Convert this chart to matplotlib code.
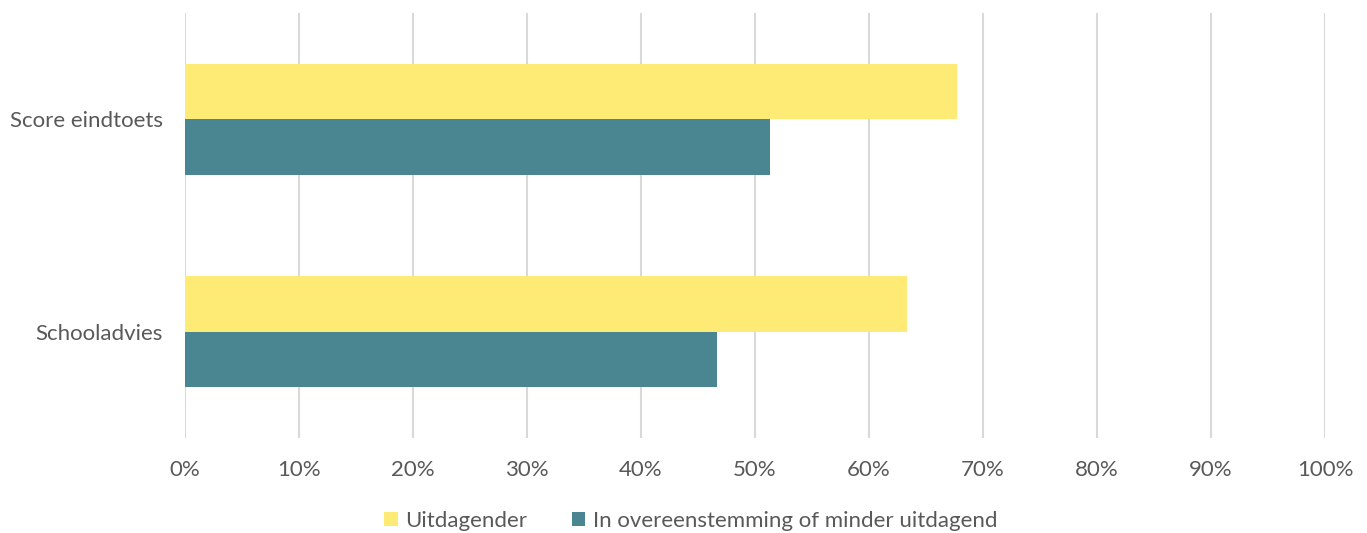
import matplotlib
matplotlib.use("Agg")
import matplotlib.pyplot as plt
from matplotlib.ticker import PercentFormatter
import numpy as np

categories = ["Score eindtoets", "Schooladvies"]
series_names = ["Uitdagender", "In overeenstemming of minder uitdagend"]
uitdagender = [67.7, 63.3]
minder = [51.3, 46.7]
xticks = list(range(0, 101, 10))

yellow = "#FDEB76"
teal = "#4A8692"
text_c = "#595959"
grid_c = "#D9D9D9"

plt.rcParams['font.family'] = ['Lato', 'DejaVu Sans']
fs = 16

fig = plt.figure(figsize=(13.67, 5.33), dpi=100)
ax = fig.add_axes([185/1367, (533-438)/533, (1325-185)/1367, (438-13)/533])

y = np.arange(len(categories))
h = 0.262
ax.barh(y - h/2, uitdagender, height=h, color=yellow, label=series_names[0])
ax.barh(y + h/2, minder, height=h, color=teal, label=series_names[1])

ax.set_ylim(1.5, -0.5)
ax.set_xlim(0, 100)
ax.set_xticks(xticks)
ax.xaxis.set_major_formatter(PercentFormatter(decimals=0))
ax.set_yticks(y)
ax.set_yticklabels(categories)
ax.grid(axis='x', color=grid_c, linewidth=1.5)
ax.set_axisbelow(True)
for s in ax.spines.values():
    s.set_visible(False)
ax.tick_params(axis='both', length=0, colors=text_c, labelsize=fs)
ax.tick_params(axis='x', pad=16)
ax.tick_params(axis='y', pad=16)

fig.legend(loc='center', bbox_to_anchor=(691/1367, 1 - 521/533), ncol=2, frameon=False,
           fontsize=fs, labelcolor=text_c, handlelength=0.6, handleheight=0.6,
           handletextpad=0.35, columnspacing=2.0)

fig.savefig("out.png", dpi=100)
